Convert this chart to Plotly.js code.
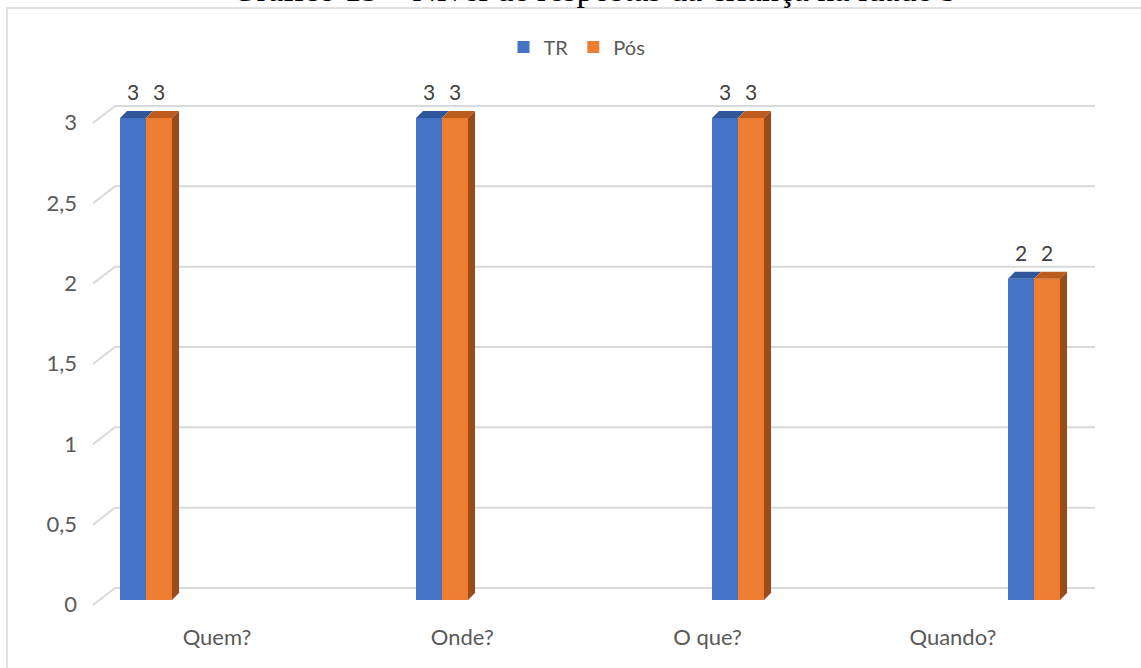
<!DOCTYPE html>
<html>
<head>
<meta charset="utf-8">
<script src="https://cdn.plot.ly/plotly-3.0.1.min.js"></script>
<style>
  html, body { margin: 0; padding: 0; background: #ffffff; }
  #chart { width: 1141px; height: 668px; }
</style>
</head>
<body>
<div id="chart"></div>
<script>
// Respostas por tipo de pergunta, antes (TR) e depois (Pós)
const categories = ['Quem?', 'Onde?', 'O que?', 'Quando?'];
const seriesNames = ['TR', 'Pós'];
const trValues = [3, 3, 3, 2];
const posValues = [3, 3, 3, 2];
const yTicks = [0, 0.5, 1, 1.5, 2, 2.5, 3];
const chartTitle = 'Gráfico 13 – Nível de respostas da criança na idade 5';

// Colours: front faces, top faces, side face
const frontColors = ['#4472C4', '#ED7D31'];
const topColors = ['#30569c', '#bd5d1d'];
const sideColor = '#9a4b18';
const gridColor = '#d9d9d9';
const textColor = '#595959';

// Geometry (pixels)
const W = 1141, H = 668;
const M = { l: 94, r: 46, t: 70, b: 58 };
const plotW = W - M.l - M.r;
const plotH = H - M.t - M.b;
const catStep = 296;           // spacing between bar groups
const barPx = 26;              // width of a single bar
const depth = 7;               // 3-D depth offset
const pxPerUnit = 160.67;
const floorPx = 10;            // room below the zero line
const yRange = [-floorPx / pxPerUnit, (plotH - floorPx) / pxPerUnit];
const labelShift = 4.5 / pxPerUnit;
const xRange = [-52 / catStep, -52 / catStep + plotW / catStep];
const labelStep = 245.3;
const xLabelRange = [(M.l - 217) / labelStep, (M.l - 217 + plotW) / labelStep];
const depthData = depth / pxPerUnit;

const traces = [
  {
    type: 'bar', name: seriesNames[0], x: categories, y: trValues,
    marker: { color: frontColors[0], line: { width: 0 } },
    hoverinfo: 'skip'
  },
  {
    type: 'bar', name: seriesNames[1], x: categories, y: posValues,
    marker: { color: frontColors[1], line: { width: 0 } },
    hoverinfo: 'skip'
  },
  {
    // carries the category labels and the value axis labels
    type: 'scatter', mode: 'markers', x: categories,
    y: categories.map(() => null), xaxis: 'x2', yaxis: 'y2',
    showlegend: false, hoverinfo: 'skip', marker: { opacity: 0 }
  }
];

const shapes = [];

// Frame around the chart
shapes.push({
  type: 'rect', xref: 'paper', yref: 'paper', layer: 'below',
  x0: (7 - M.l) / plotW, x1: (W + 20 - M.l) / plotW,
  y0: -(H + 20 - (M.t + plotH)) / plotH, y1: 1 + (M.t - 8) / plotH,
  line: { color: gridColor, width: 1.5 }
});

// Back-wall gridlines with their slanted floor connector
yTicks.forEach(v => {
  shapes.push({
    type: 'path', layer: 'below',
    xref: 'paper', xsizemode: 'pixel', xanchor: 0,
    yref: 'y', ysizemode: 'pixel', yanchor: v,
    path: 'M -1,-5 L 21,12 L ' + plotW + ',12',
    line: { color: gridColor, width: 2 }
  });
});

// Top and side faces of the bars
categories.forEach((c, i) => {
  const vals = [trValues[i], posValues[i]];
  vals.forEach((v, s) => {
    const x0 = s === 0 ? -barPx : 0;
    const x1 = x0 + barPx;
    shapes.push({
      type: 'path', layer: 'above',
      xref: 'x', xsizemode: 'pixel', xanchor: i,
      yref: 'y', ysizemode: 'pixel', yanchor: v,
      path: `M ${x0},0 L ${x1},0 L ${x1 + depth},${depth} L ${x0 + depth},${depth} Z`,
      fillcolor: topColors[s], line: { width: 0 }
    });
  });
  const v = posValues[i];
  shapes.push({
    type: 'path', layer: 'above',
    xref: 'x', xsizemode: 'pixel', xanchor: i,
    yref: 'y',
    path: `M ${barPx},0 L ${barPx},${v} L ${barPx + depth},${v + depthData} L ${barPx + depth},${depthData} Z`,
    fillcolor: sideColor, line: { width: 0 }
  });
});

// Value labels above each bar
const annotations = [];
categories.forEach((c, i) => {
  [trValues[i], posValues[i]].forEach((v, s) => {
    annotations.push({
      x: i, y: v, xref: 'x', yref: 'y',
      xshift: s === 0 ? -barPx / 2 : barPx / 2, yshift: 26,
      text: String(v), showarrow: false, yanchor: 'middle',
      font: { family: 'Lato, sans-serif', size: 21, color: '#404040' }
    });
  });
});

// Title, partly above the page edge
annotations.push({
  text: chartTitle, xref: 'paper', yref: 'paper', x: 0.5, y: 1 + (M.t - 10.5) / plotH,
  xanchor: 'center', yanchor: 'bottom', showarrow: false,
  font: { family: 'Liberation Serif, Times New Roman, serif', size: 34, color: '#000000' }
});

const layout = {
  width: W, height: H,
  margin: M,
  paper_bgcolor: '#ffffff', plot_bgcolor: 'rgba(0,0,0,0)',
  separators: ',.',
  barmode: 'group',
  bargap: 1 - 2 * barPx / catStep,
  bargroupgap: 0,
  font: { family: 'Lato, sans-serif', size: 22, color: textColor },
  showlegend: true,
  legend: {
    orientation: 'h', xref: 'container', yref: 'container',
    x: 577 / W, xanchor: 'center', y: 1 - 47 / H, yanchor: 'middle',
    font: { size: 20, color: textColor }, itemwidth: 30, tracegroupgap: 0
  },
  xaxis: {
    type: 'category', range: xRange, showticklabels: false,
    showgrid: false, zeroline: false, showline: false, ticks: '', fixedrange: true
  },
  yaxis: {
    range: yRange, showticklabels: false, showgrid: false,
    zeroline: false, showline: false, ticks: '', fixedrange: true
  },
  xaxis2: {
    type: 'category', overlaying: 'x', anchor: 'y2', side: 'bottom',
    range: xLabelRange, showgrid: false, zeroline: false, showline: false,
    ticks: '', ticklabelstandoff: 12, tickfont: { size: 22, color: textColor }
  },
  yaxis2: {
    overlaying: 'y', anchor: 'x2', side: 'left',
    range: [yRange[0] + labelShift, yRange[1] + labelShift],
    tickvals: yTicks, showgrid: false, zeroline: false, showline: false,
    ticks: '', ticklabelstandoff: 16, tickfont: { size: 22, color: textColor }
  },
  shapes: shapes,
  annotations: annotations
};

Plotly.newPlot('chart', traces, layout, { staticPlot: true, displayModeBar: false });
</script>
</body>
</html>
